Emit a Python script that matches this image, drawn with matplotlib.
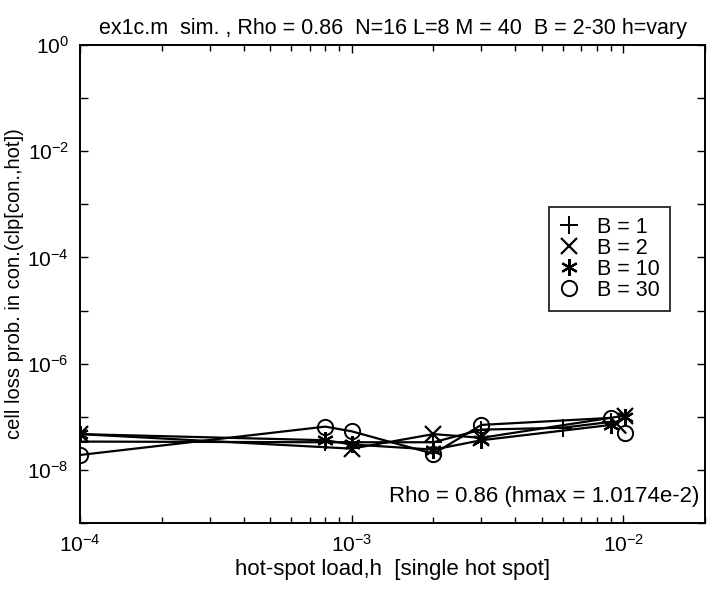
import math
import matplotlib
matplotlib.use("Agg")
import matplotlib.pyplot as plt
from matplotlib.ticker import LogLocator, FixedLocator, FuncFormatter, NullFormatter

plt.rcParams['font.family'] = ['Liberation Sans', 'DejaVu Sans']
plt.rcParams['mathtext.fontset'] = 'custom'
plt.rcParams['mathtext.rm'] = 'Liberation Sans'
plt.rcParams['mathtext.it'] = 'Liberation Sans'
plt.rcParams['mathtext.bf'] = 'Liberation Sans'

# data
x_b1 = [1e-4, 8e-4, 2e-3, 3e-3, 6e-3, 9e-3]
y_b1 = [3.4e-8, 3.3e-8, 3.3e-8, 5.7e-8, 6.2e-8, 8.0e-8]
x_b2 = [1e-4, 1e-3, 2e-3, 3e-3, 1.0174e-2]
y_b2 = [4.7e-8, 2.5e-8, 4.7e-8, 4.0e-8, 1.05e-7]
x_b10 = [1e-4, 8e-4, 1e-3, 2e-3, 3e-3, 9e-3, 1.0174e-2]
y_b10 = [4.7e-8, 3.6e-8, 3.0e-8, 2.4e-8, 3.6e-8, 7.0e-8, 1.0e-7]
x_b30 = [1e-4, 8e-4, 1e-3, 2e-3, 3e-3, 9e-3, 1.0174e-2]
y_b30 = [1.9e-8, 6.5e-8, 5.3e-8, 2.0e-8, 7.0e-8, 9.5e-8, 5.0e-8]
labels = ['B = 1', 'B = 2', 'B = 10', 'B = 30']

fig = plt.figure(figsize=(7.08, 6.01), dpi=100)
ax = fig.add_axes([0.113, 0.130, 0.883, 0.795])

lw = 1.6
ax.plot(x_b1, y_b1, color='black', lw=lw, marker='+', ms=13, mew=1.4)
ax.plot(x_b2, y_b2, color='black', lw=lw, marker='x', ms=11, mew=1.6)
ax.plot(x_b10, y_b10, color='black', lw=lw, marker=(6, 2, 0), ms=12, mew=1.6)
ax.plot(x_b30, y_b30, color='black', lw=lw, marker='o', ms=11, mew=1.4, mfc='none')

ax.set_xscale('log')
ax.set_yscale('log')
ax.set_xlim(1e-4, 2e-2)
ax.set_ylim(1e-9, 1e0)

fmt = FuncFormatter(lambda v, p: r'$10^{%d}$' % round(math.log10(v)))
ax.xaxis.set_major_locator(FixedLocator([1e-4, 1e-3, 1e-2]))
ax.xaxis.set_minor_locator(LogLocator(base=10, subs=range(2, 10)))
ax.xaxis.set_minor_formatter(NullFormatter())
ax.xaxis.set_major_formatter(fmt)

ax.yaxis.set_major_locator(FixedLocator([1e0, 1e-2, 1e-4, 1e-6, 1e-8]))
ax.yaxis.set_minor_locator(FixedLocator([1e-1, 1e-3, 1e-5, 1e-7, 1e-9]))
ax.yaxis.set_minor_formatter(NullFormatter())
ax.yaxis.set_major_formatter(fmt)

ax.tick_params(which='both', direction='in', top=True, right=True, labelsize=15, pad=8)
ax.tick_params(which='major', length=6, width=1)
ax.tick_params(which='minor', length=4, width=1)
ax.tick_params(axis='y', which='minor', length=6)

for s in ax.spines.values():
    s.set_linewidth(1.4)

ax.set_title('ex1c.m  sim. , Rho = 0.86  N=16 L=8 M = 40  B = 2-30 h=vary', fontsize=15.5, pad=8)
ax.set_xlabel('hot-spot load,h  [single hot spot]', fontsize=16, labelpad=2)
ax.set_ylabel('cell loss prob. in con.(clp[con.,hot])', fontsize=14.5, labelpad=2)

ax.text(0.99, 0.055, 'Rho = 0.86 (hmax = 1.0174e-2)', transform=ax.transAxes,
        ha='right', va='center', fontsize=16)

leg = ax.legend(labels, loc='upper left', bbox_to_anchor=(0.733, 0.683),
                fontsize=15.5, frameon=True, fancybox=False, edgecolor='black',
                handlelength=1.0, handletextpad=0.8, borderpad=0.45, labelspacing=0.0)
leg.get_frame().set_linewidth(1.4)
for h in leg.legend_handles:
    h.set_linestyle('none')

fig.savefig('out.png', dpi=100)
